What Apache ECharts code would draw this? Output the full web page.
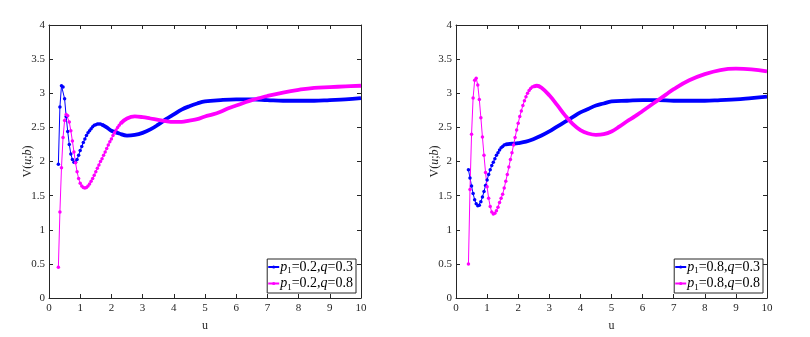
<!DOCTYPE html>
<html>
<head>
<meta charset="utf-8">
<script src="https://cdn.jsdelivr.net/npm/echarts@6/dist/echarts.min.js"></script>
<style>
  html, body { margin: 0; padding: 0; background: #fff; }
  #chart { width: 810px; height: 337px; }
</style>
</head>
<body>
<div id="chart"></div>
<script>
// fine u grid (steep part, drawn with dots)
const uFine = [0.30, 0.35, 0.40, 0.45, 0.50, 0.55, 0.60, 0.65, 0.70, 0.75,
  0.80, 0.85, 0.90, 0.95, 1.00, 1.05, 1.10, 1.15, 1.20, 1.25,
  1.30, 1.35, 1.40, 1.45, 1.50, 1.55, 1.60, 1.65, 1.70, 1.75,
  1.80, 1.85, 1.90, 1.95, 2.00, 2.05, 2.10, 2.15, 2.20, 2.25,
  2.30, 2.35, 2.40, 2.45, 2.50]

// left panel, p1 = 0.2
const blueL_fine = [1.96, 2.80, 3.11, 3.09, 2.92, 2.66, 2.44, 2.25, 2.11, 2.03,
  1.99, 1.99, 2.03, 2.09, 2.16, 2.22, 2.28, 2.33, 2.38, 2.42,
  2.45, 2.48, 2.51, 2.53, 2.54, 2.55, 2.55, 2.55, 2.54]
const blueL_uLate = [1.70, 1.85, 2.0, 2.25, 2.5, 2.75, 3.0, 3.25, 3.5, 3.75, 4.0, 4.25, 4.5,
  4.75, 5.0, 5.5, 6.0, 6.5, 7.0, 7.5, 8.0, 8.5, 9.0, 9.5, 10]
const blueL_late = [2.54, 2.50, 2.45, 2.41, 2.38, 2.39, 2.42, 2.47, 2.54, 2.62, 2.69, 2.76, 2.81,
  2.85, 2.88, 2.90, 2.91, 2.91, 2.90, 2.89, 2.89, 2.89, 2.90, 2.91, 2.93]

const magL_fine = [0.45, 1.26, 1.91, 2.35, 2.60, 2.69, 2.67, 2.58, 2.45, 2.30,
  2.14, 1.98, 1.85, 1.75, 1.68, 1.64, 1.62, 1.61, 1.62, 1.64,
  1.67, 1.71, 1.75, 1.80, 1.85, 1.90, 1.95, 2.00, 2.04, 2.09,
  2.14, 2.19, 2.24, 2.29, 2.33, 2.38, 2.42, 2.46, 2.50, 2.53, 2.56]
const magL_uLate = [2.30, 2.5, 2.75, 3.0, 3.25, 3.5, 3.75, 4.0, 4.25, 4.5, 4.75, 5.0, 5.25,
  5.5, 5.75, 6.0, 6.25, 6.5, 6.75, 7.0, 7.5, 8.0, 8.5, 9.0, 9.5, 10]
const magL_late = [2.56, 2.63, 2.66, 2.65, 2.63, 2.61, 2.59, 2.58, 2.58, 2.60, 2.62, 2.66, 2.69,
  2.73, 2.78, 2.82, 2.86, 2.90, 2.93, 2.96, 3.01, 3.05, 3.08, 3.09, 3.10, 3.11]

// right panel, p1 = 0.8 (starts at u = 0.40)
const blueR_fine = [1.88, 1.76, 1.64, 1.53, 1.44, 1.38, 1.35, 1.36, 1.41, 1.48,
  1.56, 1.65, 1.73, 1.81, 1.88, 1.94, 1.99, 2.04, 2.09, 2.13,
  2.17, 2.20, 2.22, 2.24, 2.25]
const blueR_uLate = [1.60, 1.8, 2.0, 2.25, 2.5, 2.75, 3.0, 3.25, 3.5, 3.75, 4.0, 4.25, 4.5,
  4.75, 5.0, 5.5, 6.0, 6.5, 7.0, 7.5, 8.0, 8.5, 9.0, 9.5, 10]
const blueR_late = [2.25, 2.26, 2.27, 2.29, 2.33, 2.38, 2.44, 2.51, 2.58, 2.65, 2.72, 2.77, 2.82,
  2.85, 2.88, 2.89, 2.90, 2.90, 2.89, 2.89, 2.89, 2.90, 2.91, 2.93, 2.95]

const magR_fine = [0.50, 1.59, 2.40, 2.93, 3.19, 3.22, 3.12, 2.91, 2.64, 2.36,
  2.09, 1.84, 1.63, 1.46, 1.34, 1.26, 1.23, 1.24, 1.28, 1.33,
  1.40, 1.46, 1.52, 1.61, 1.71, 1.81, 1.92, 2.03, 2.13, 2.24,
  2.35, 2.46, 2.56, 2.66, 2.74, 2.82, 2.89, 2.95, 3.00, 3.04,
  3.07, 3.09, 3.10]
const magR_uLate = [2.5, 2.6, 2.75, 3.0, 3.25, 3.5, 3.75, 4.0, 4.25, 4.5, 4.75, 5.0, 5.25,
  5.5, 5.75, 6.0, 6.25, 6.5, 6.75, 7.0, 7.5, 8.0, 8.5, 9.0, 9.5, 10]
const magR_late = [3.10, 3.11, 3.08, 2.97, 2.83, 2.68, 2.55, 2.46, 2.41, 2.39, 2.40, 2.44, 2.51,
  2.59, 2.66, 2.74, 2.82, 2.90, 2.98, 3.06, 3.19, 3.28, 3.34, 3.36, 3.35, 3.32]

const namesL = ['p1=0.2,q=0.3', 'p1=0.2,q=0.8']
const namesR = ['p1=0.8,q=0.3', 'p1=0.8,q=0.8']

const BLUE = '#0000ff'
const MAGENTA = '#ff00ff'
const INK = '#262626'
const SERIF = 'Liberation Serif'

function zip(us, vs) {
  return vs.map((v, i) => [us[i], v])
}

const chart = echarts.init(document.getElementById('chart'))

function xAxes(gridIndex) {
  return [
    {
      gridIndex, type: 'value', min: 0, max: 10, interval: 1,
      name: 'u', nameLocation: 'middle', nameGap: 22, nameMoveOverlap: false,
      nameTextStyle: { fontFamily: SERIF, fontSize: 12, color: INK },
      axisLine: { lineStyle: { color: INK } },
      axisTick: { inside: true, length: 4, lineStyle: { color: INK } },
      axisLabel: { fontFamily: SERIF, fontSize: 11, color: INK, margin: 5 },
      splitLine: { show: false }
    },
    {
      gridIndex, type: 'value', position: 'top', min: 0, max: 10, interval: 1,
      axisLine: { onZero: false, lineStyle: { color: INK } },
      axisTick: { inside: true, length: 4, lineStyle: { color: INK } },
      axisLabel: { show: false },
      splitLine: { show: false }
    }
  ]
}

function yAxes(gridIndex) {
  return [
    {
      gridIndex, type: 'value', min: 0, max: 4, interval: 0.5,
      name: '{n|V(}{i|u}{n|;}{i|b}{n|)}', nameLocation: 'middle', nameGap: 15,
      nameMoveOverlap: false,
      nameTextStyle: {
        rich: {
          n: { fontFamily: SERIF, fontSize: 12, color: INK },
          i: { fontFamily: SERIF, fontSize: 12, color: INK, fontStyle: 'italic' }
        }
      },
      axisLine: { show: true, lineStyle: { color: INK } },
      axisTick: { inside: true, length: 4, lineStyle: { color: INK } },
      axisLabel: { fontFamily: SERIF, fontSize: 11, color: INK, margin: 4 },
      splitLine: { show: false }
    },
    {
      gridIndex, type: 'value', position: 'right', min: 0, max: 4, interval: 0.5,
      axisLine: { show: true, onZero: false, lineStyle: { color: INK } },
      axisTick: { inside: true, length: 4, lineStyle: { color: INK } },
      axisLabel: { show: false },
      splitLine: { show: false }
    }
  ]
}

function legendFor(names, right) {
  return {
    data: names,
    orient: 'vertical',
    right, bottom: 44,
    backgroundColor: '#fff',
    borderColor: INK, borderWidth: 1,
    padding: [1, 3, 1, 0],
    itemGap: 1,
    itemWidth: 11, itemHeight: 4,
    selectedMode: false,
    formatter: name => {
      const m = name.match(/p1=(.*),q=(.*)/)
      return `{i|p}{s|1}{n|=${m[1]},}{i|q}{n|=${m[2]}}`
    },
    textStyle: {
      padding: [0, 0, 0, -4],
      rich: {
        n: { fontFamily: SERIF, fontSize: 14, color: '#000', lineHeight: 17 },
        i: { fontFamily: SERIF, fontSize: 14, color: '#000', fontStyle: 'italic', lineHeight: 17 },
        s: { fontFamily: SERIF, fontSize: 9, color: '#000', lineHeight: 17, verticalAlign: 'bottom' }
      }
    }
  }
}

function fineSeries(name, color, us, vs, xi) {
  return {
    name, type: 'line', xAxisIndex: xi, yAxisIndex: xi,
    data: zip(us, vs),
    symbol: 'circle', symbolSize: 3.5, showSymbol: true, showAllSymbol: true,
    lineStyle: { color, width: 1 },
    itemStyle: { color },
    emphasis: { disabled: true }
  }
}

function lateSeries(name, color, us, vs, xi) {
  return {
    name, type: 'line', xAxisIndex: xi, yAxisIndex: xi,
    data: zip(us, vs),
    smooth: 0.4, showSymbol: false,
    lineStyle: { color, width: 3.8 },
    itemStyle: { color },
    emphasis: { disabled: true }
  }
}

const option = {
  animation: false,
  backgroundColor: '#fff',
  grid: [
    { left: 49, top: 25, width: 312, height: 273 },
    { left: 456, top: 25, width: 311, height: 273 }
  ],
  xAxis: [...xAxes(0), ...xAxes(1)],
  yAxis: [...yAxes(0), ...yAxes(1)],
  legend: [legendFor(namesL, 454), legendFor(namesR, 47)],
  series: [
    fineSeries(namesL[0], BLUE, uFine, blueL_fine, 0),
    lateSeries(namesL[0], BLUE, blueL_uLate, blueL_late, 0),
    fineSeries(namesL[1], MAGENTA, uFine, magL_fine, 0),
    lateSeries(namesL[1], MAGENTA, magL_uLate, magL_late, 0),
    fineSeries(namesR[0], BLUE, uFine.slice(2), blueR_fine, 2),
    lateSeries(namesR[0], BLUE, blueR_uLate, blueR_late, 2),
    fineSeries(namesR[1], MAGENTA, uFine.slice(2), magR_fine, 2),
    lateSeries(namesR[1], MAGENTA, magR_uLate, magR_late, 2)
  ]
}

chart.setOption(option)
</script>
</body>
</html>
